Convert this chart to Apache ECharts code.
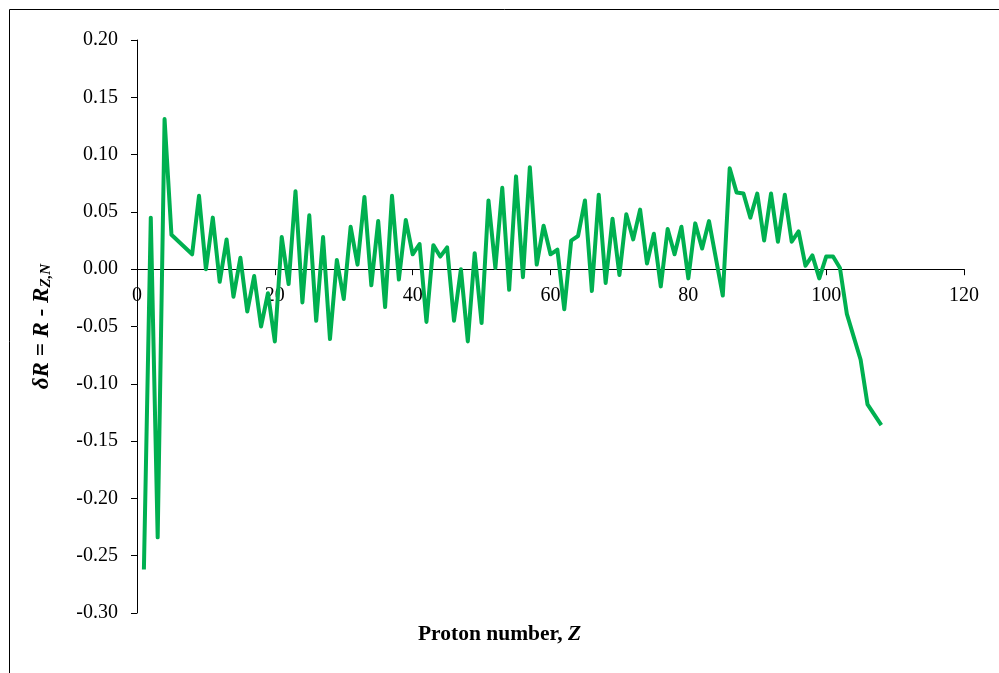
<!DOCTYPE html>
<html>
<head>
<meta charset="utf-8">
<script src="https://cdn.jsdelivr.net/npm/echarts@6/dist/echarts.min.js"></script>
<style>
  html, body { margin: 0; padding: 0; background: #fff; }
  #chart { width: 999px; height: 673px; }
</style>
</head>
<body>
<div id="chart"></div>
<script>
// Proton number Z and the deviation of the radius from the Z,N fit
const protonNumbers = [
  1, 2, 3, 4, 5, 8, 9, 10, 11, 12, 13, 14, 15, 16, 17, 18, 19, 20,
  21, 22, 23, 24, 25, 26, 27, 28, 29, 30, 31, 32, 33, 34, 35, 36, 37, 38, 39, 40,
  41, 42, 43, 44, 45, 46, 47, 48, 49, 50, 51, 52, 53, 54, 55, 56, 57, 58, 59, 60,
  61, 62, 63, 64, 65, 66, 67, 68, 69, 70, 71, 72, 73, 74, 75, 76, 77, 78, 79, 80,
  81, 82, 83, 85, 86, 87, 88, 89, 90, 91, 92, 93, 94, 95, 96, 97, 98, 99, 100,
  101, 102, 103, 104, 105, 106, 108
];
const deltaR = [
  -0.262, 0.045, -0.234, 0.131, 0.030, 0.013, 0.064, 0.000, 0.045, -0.011, 0.026, -0.024, 0.010, -0.037, -0.006, -0.050, -0.021, -0.063,
  0.028, -0.013, 0.068, -0.029, 0.047, -0.045, 0.028, -0.061, 0.008, -0.026, 0.037, 0.004, 0.063, -0.014, 0.042, -0.033, 0.064, -0.009, 0.043, 0.013,
  0.022, -0.046, 0.021, 0.011, 0.019, -0.045, 0.000, -0.063, 0.014, -0.047, 0.060, 0.001, 0.071, -0.018, 0.081, -0.007, 0.089, 0.004, 0.038, 0.013,
  0.017, -0.035, 0.025, 0.029, 0.060, -0.019, 0.065, -0.012, 0.044, -0.005, 0.048, 0.026, 0.052, 0.005, 0.031, -0.015, 0.035, 0.013, 0.037, -0.008,
  0.040, 0.018, 0.042, -0.023, 0.088, 0.067, 0.066, 0.045, 0.066, 0.025, 0.066, 0.024, 0.065, 0.024, 0.033, 0.003, 0.012, -0.008, 0.011,
  0.011, 0.001, -0.039, -0.059, -0.079, -0.118, -0.136
];
const xAxisTitle = 'Proton number, ';
const xAxisSymbol = 'Z';

const seriesData = protonNumbers.map((z, i) => [z, deltaR[i]]);
const serif = '"Liberation Serif", "Times New Roman", serif';

// Plot box and value range
const W = 999, H = 673;
const grid = { left: 137, right: 35, top: 40, bottom: 60 };
const yMin = -0.30, yMax = 0.20;
// Shift the whole x axis (line, ticks, labels) up to y = 0
const plotH = H - grid.top - grid.bottom;
const zeroOffset = -plotH * (0 - yMin) / (yMax - yMin);

const chart = echarts.init(document.getElementById('chart'), null, { renderer: 'canvas' });
chart.setOption({
  animation: false,
  backgroundColor: '#ffffff',
  grid: Object.assign({ containLabel: false }, grid),
  xAxis: {
    type: 'value',
    min: 0, max: 120, interval: 20,
    offset: zeroOffset,
    axisLine: { onZero: false, lineStyle: { color: '#000', width: 1 } },
    axisTick: { show: true, inside: false, length: 6, lineStyle: { color: '#000' } },
    axisLabel: { color: '#000', fontFamily: serif, fontSize: 20, margin: 17 },
    splitLine: { show: false }
  },
  yAxis: {
    type: 'value',
    min: yMin, max: yMax, interval: 0.05,
    axisLine: { show: true, lineStyle: { color: '#000', width: 1 } },
    axisTick: { show: true, inside: false, length: 6, lineStyle: { color: '#000' } },
    axisLabel: {
      color: '#000', fontFamily: serif, fontSize: 20, margin: 19,
      formatter: v => v.toFixed(2)
    },
    splitLine: { show: false },
    name: '{b|δR = R - R}{s|Z,N}',
    nameLocation: 'middle',
    nameRotate: 90,
    nameGap: 83,
    nameTextStyle: {
      rich: {
        b: { fontFamily: serif, fontSize: 23, fontWeight: 'bold', fontStyle: 'italic', color: '#000' },
        s: { fontFamily: serif, fontSize: 15, fontWeight: 'bold', fontStyle: 'italic', color: '#000', verticalAlign: 'bottom', padding: [9, 0, 0, 0] }
      }
    }
  },
  graphic: [
    {
      type: 'rect',
      left: 7, top: 7,
      shape: { width: 1010, height: 700 },
      style: { fill: 'none', stroke: '#000', lineWidth: 1 },
      silent: true
    },
    {
      type: 'text',
      left: 'center',
      top: 623,
      style: {
        rich: {
          a: { fontFamily: serif, fontSize: 21.5, fontWeight: 'bold', fill: '#000' },
          z: { fontFamily: serif, fontSize: 21.5, fontWeight: 'bold', fontStyle: 'italic', fill: '#000' }
        },
        text: '{a|' + xAxisTitle + '}{z|' + xAxisSymbol + '}'
      }
    }
  ],
  series: [{
    type: 'line',
    data: seriesData,
    showSymbol: false,
    symbol: 'none',
    lineStyle: { color: '#00B050', width: 4, join: 'round' },
    z: 3
  }]
});
</script>
</body>
</html>
